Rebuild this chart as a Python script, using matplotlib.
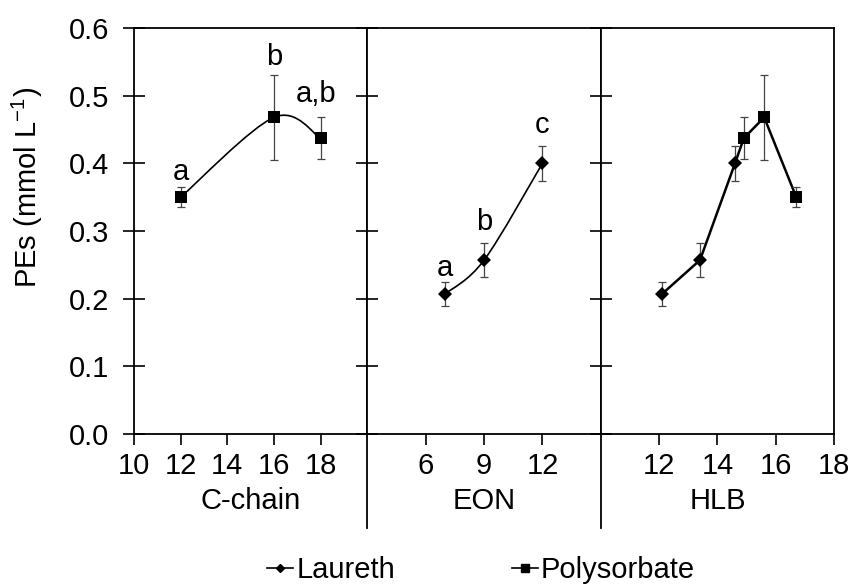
# PEs vs surfactant structure: C-chain, EON and HLB panels

# import the libraries
import numpy as np
import matplotlib
matplotlib.use("Agg")
import matplotlib.pyplot as plt
from matplotlib.path import Path
from matplotlib.patches import PathPatch
from matplotlib.lines import Line2D

plt.rcParams["font.family"] = ["Liberation Sans", "DejaVu Sans"]
plt.rcParams["font.size"] = 21
plt.rcParams["axes.unicode_minus"] = False

# Polysorbate vs carbon chain length
cchain_x = [12, 16, 18]
cchain_y = [0.350, 0.468, 0.437]
cchain_err = [0.015, 0.063, 0.031]
cchain_lbl = ["a", "b", "a,b"]
cchain_lbl_y = [0.375, 0.545, 0.491]

# Laureth vs number of ethylene oxide units
eon_x = [7, 9, 12]
eon_y = [0.207, 0.257, 0.400]
eon_err = [0.018, 0.025, 0.026]
eon_lbl = ["a", "b", "c"]
eon_lbl_y = [0.233, 0.301, 0.445]

# HLB of both families
hlb_laureth_x = [12.1, 13.4, 14.6]
hlb_laureth_y = [0.207, 0.257, 0.400]
hlb_laureth_err = [0.018, 0.025, 0.026]
hlb_poly_x = [14.9, 15.6, 16.7]
hlb_poly_y = [0.437, 0.468, 0.350]
hlb_poly_err = [0.031, 0.063, 0.015]

yticks = [0.0, 0.1, 0.2, 0.3, 0.4, 0.5, 0.6]
xlims = [(10, 20), (3, 15), (10, 18)]
xticks = [[10, 12, 14, 16, 18], [6, 9, 12], [12, 14, 16, 18]]
xlabels = ["C-chain", "EON", "HLB"]

W, H = 853, 585
fig = plt.figure(figsize=(W / 100, H / 100), dpi=100)

left0 = 134 / W
pw = 233.4 / W
bottom = 1 - 434 / H
ph = 406 / H

axes = []
for i in range(3):
    ax = fig.add_axes([left0 + i * pw, bottom, pw, ph])
    ax.set_xlim(*xlims[i])
    ax.set_ylim(0, 0.6)
    ax.set_xticks(xticks[i])
    ax.set_yticks(yticks)
    for s in ax.spines.values():
        s.set_linewidth(1.3)
    ax.tick_params(axis="x", direction="out", length=8, width=1.2, pad=5)
    ax.tick_params(axis="y", direction="inout", length=16, width=1.2, pad=10)
    if i == 0:
        ax.set_yticklabels(["%.1f" % v for v in yticks])
    else:
        ax.tick_params(axis="y", labelleft=False)
    ax.set_xlabel(xlabels[i], labelpad=5)
    axes.append(ax)


def smooth_path(xs, ys):
    # bezier smoothing through points (catmull-rom style control points)
    pts = np.column_stack([xs, ys])
    n = len(pts)
    verts = [pts[0]]
    codes = [Path.MOVETO]
    for i in range(n - 1):
        p0 = pts[max(i - 1, 0)]
        p1 = pts[i]
        p2 = pts[i + 1]
        p3 = pts[min(i + 2, n - 1)]
        c1 = p1 + (p2 - p0) / 6
        c2 = p2 - (p3 - p1) / 6
        verts += [c1, c2, p2]
        codes += [Path.CURVE4] * 3
    return Path(verts, codes)


err_kw = dict(fmt="none", ecolor="#444444", elinewidth=0.9, capsize=3, capthick=0.9)

# C-chain panel
ax = axes[0]
ax.add_patch(PathPatch(smooth_path(cchain_x, cchain_y), fill=False, lw=1.2, color="black"))
ax.errorbar(cchain_x, cchain_y, yerr=cchain_err, **err_kw)
ax.plot(cchain_x, cchain_y, "s", color="black", ms=8.4, mew=0, zorder=5)
for x, ly, t in zip(cchain_x, cchain_lbl_y, cchain_lbl):
    ax.text(x - (0.2 if t == "a,b" else 0), ly, t, ha="center", va="baseline")

# EON panel
ax = axes[1]
ax.add_patch(PathPatch(smooth_path(eon_x, eon_y), fill=False, lw=1.2, color="black"))
ax.errorbar(eon_x, eon_y, yerr=eon_err, **err_kw)
ax.plot(eon_x, eon_y, "D", color="black", ms=6.8, mew=0, zorder=5)
for x, ly, t in zip(eon_x, eon_lbl_y, eon_lbl):
    ax.text(x, ly, t, ha="center", va="baseline")

# HLB panel: one straight line through both families
ax = axes[2]
all_x = hlb_laureth_x + hlb_poly_x
all_y = hlb_laureth_y + hlb_poly_y
ax.plot(all_x, all_y, color="black", lw=1.8)
ax.errorbar(hlb_laureth_x, hlb_laureth_y, yerr=hlb_laureth_err, **err_kw)
ax.errorbar(hlb_poly_x, hlb_poly_y, yerr=hlb_poly_err, **err_kw)
ax.plot(hlb_laureth_x, hlb_laureth_y, "D", color="black", ms=6.8, mew=0, zorder=5)
ax.plot(hlb_poly_x, hlb_poly_y, "s", color="black", ms=8.4, mew=0, zorder=5)

# panel dividers running down between the axis titles
for i in (1, 2):
    xf = left0 + i * pw
    fig.add_artist(Line2D([xf, xf], [1 - 528 / H, bottom], color="black", lw=1.3))

fig.text(27 / W, 1 - 187 / H, "PEs (mmol L$^{\\mathregular{-1}}$)", rotation=90,
         ha="center", va="center")

handles = [
    Line2D([], [], color="black", lw=1.2, marker="D", ms=4.5),
    Line2D([], [], color="black", lw=1.2, marker="s", ms=6),
]
fig.legend(handles, ["Laureth", "Polysorbate"], loc="center",
           bbox_to_anchor=(481 / W, 1 - 570 / H), ncol=2, frameon=False,
           handlelength=0.9, handletextpad=0.1, columnspacing=4.0,
           borderpad=0, borderaxespad=0)

fig.savefig("out.png", dpi=100)
